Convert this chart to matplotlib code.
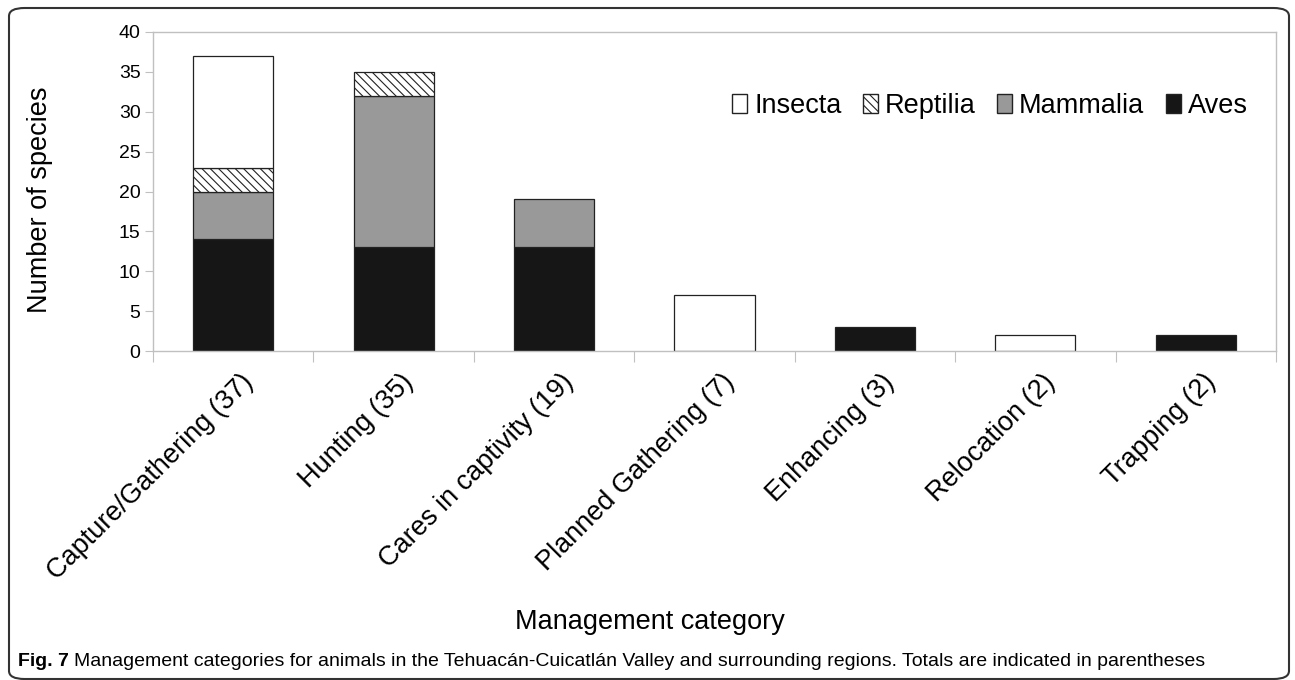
import matplotlib
matplotlib.use('Agg')
import matplotlib.pyplot as plt
from matplotlib.patches import FancyBboxPatch, Patch
import numpy as np

plt.rcParams['font.family'] = ['Liberation Sans', 'DejaVu Sans']
plt.rcParams['hatch.linewidth'] = 0.8

# Data
categories = ["Capture/Gathering (37)", "Hunting (35)", "Cares in captivity (19)",
              "Planned Gathering (7)", "Enhancing (3)", "Relocation (2)", "Trapping (2)"]
aves = [14, 13, 13, 0, 3, 0, 2]
mammalia = [6, 19, 6, 0, 0, 0, 0]
reptilia = [3, 3, 0, 0, 0, 0, 0]
insecta = [14, 0, 0, 7, 0, 2, 0]

W, H = 1295, 680
fig = plt.figure(figsize=(W / 100, H / 100), dpi=100)
ax = fig.add_axes([153 / W, 1 - 351 / H, (1276 - 153) / W, (351 - 32) / H])

x = np.arange(len(categories))
w = 0.5
hatch_r = "\\" * 4
bottom = np.zeros(len(categories))
series = [("Aves", aves, "#161616", None),
          ("Mammalia", mammalia, "#999999", None),
          ("Reptilia", reptilia, "white", hatch_r),
          ("Insecta", insecta, "white", None)]
for name, vals, col, hatch in series:
    vals = np.array(vals, dtype=float)
    mask = vals > 0
    ax.bar(x[mask], vals[mask], w, bottom=bottom[mask], color=col,
           edgecolor="#222222", linewidth=0.9, hatch=hatch)
    bottom += vals

ax.set_xlim(-0.5, len(categories) - 0.5)
ax.set_ylim(0, 40)
ax.set_yticks(range(0, 41, 5))
ax.tick_params(axis='y', labelsize=14, color="#c0c0c0", length=6, pad=3)
ax.set_xticks(np.arange(-0.5, len(categories), 1.0))
ax.set_xticklabels([])
ax.tick_params(axis='x', color="#c0c0c0", length=8, direction='out')
ax.set_xticks(x + 0.04, minor=True)
ax.set_xticklabels(categories, minor=True, rotation=45, ha='right',
                   rotation_mode='anchor', fontsize=19.5)
ax.tick_params(axis='x', which='minor', length=0, pad=13)
for s in ax.spines.values():
    s.set_color("#c0c0c0")
    s.set_linewidth(1.0)

fig.text(40 / W, 1 - 200 / H, "Number of species", fontsize=19.5,
         rotation=90, ha='center', va='center')
fig.text(650 / W, 1 - 622 / H, "Management category", fontsize=19.5,
         ha='center', va='center')

handles = [Patch(facecolor="white", edgecolor="#222222", label="Insecta"),
           Patch(facecolor="white", edgecolor="#222222", hatch=hatch_r, label="Reptilia"),
           Patch(facecolor="#999999", edgecolor="#222222", label="Mammalia"),
           Patch(facecolor="#161616", edgecolor="#222222", label="Aves")]
ax.legend(handles=handles, ncol=4, frameon=False, fontsize=19.5,
          loc='center', bbox_to_anchor=((990 - 153) / 1123, (351 - 106) / 319),
          handlelength=0.55, handleheight=0.65, handletextpad=0.25,
          columnspacing=0.8, borderpad=0, borderaxespad=0)

# caption
cap_y = 1 - 662 / H
t1 = fig.text(18 / W, cap_y, "Fig. 7", fontsize=14, fontweight='bold', va='center')
fig.canvas.draw()
bb = t1.get_window_extent(fig.canvas.get_renderer())
fig.text((bb.x1 + 5) / W, cap_y,
         "Management categories for animals in the Tehuacán-Cuicatlán Valley and surrounding regions. Totals are indicated in parentheses",
         fontsize=14, va='center')

# rounded frame
frame = FancyBboxPatch((9 / W, 1 / H), 1280 / W, 671 / H,
                       boxstyle="round,pad=0,rounding_size=0.012",
                       transform=fig.transFigure, fill=False,
                       edgecolor="#333333", linewidth=1.5)
fig.patches.append(frame)

fig.savefig("out.png", dpi=100)
